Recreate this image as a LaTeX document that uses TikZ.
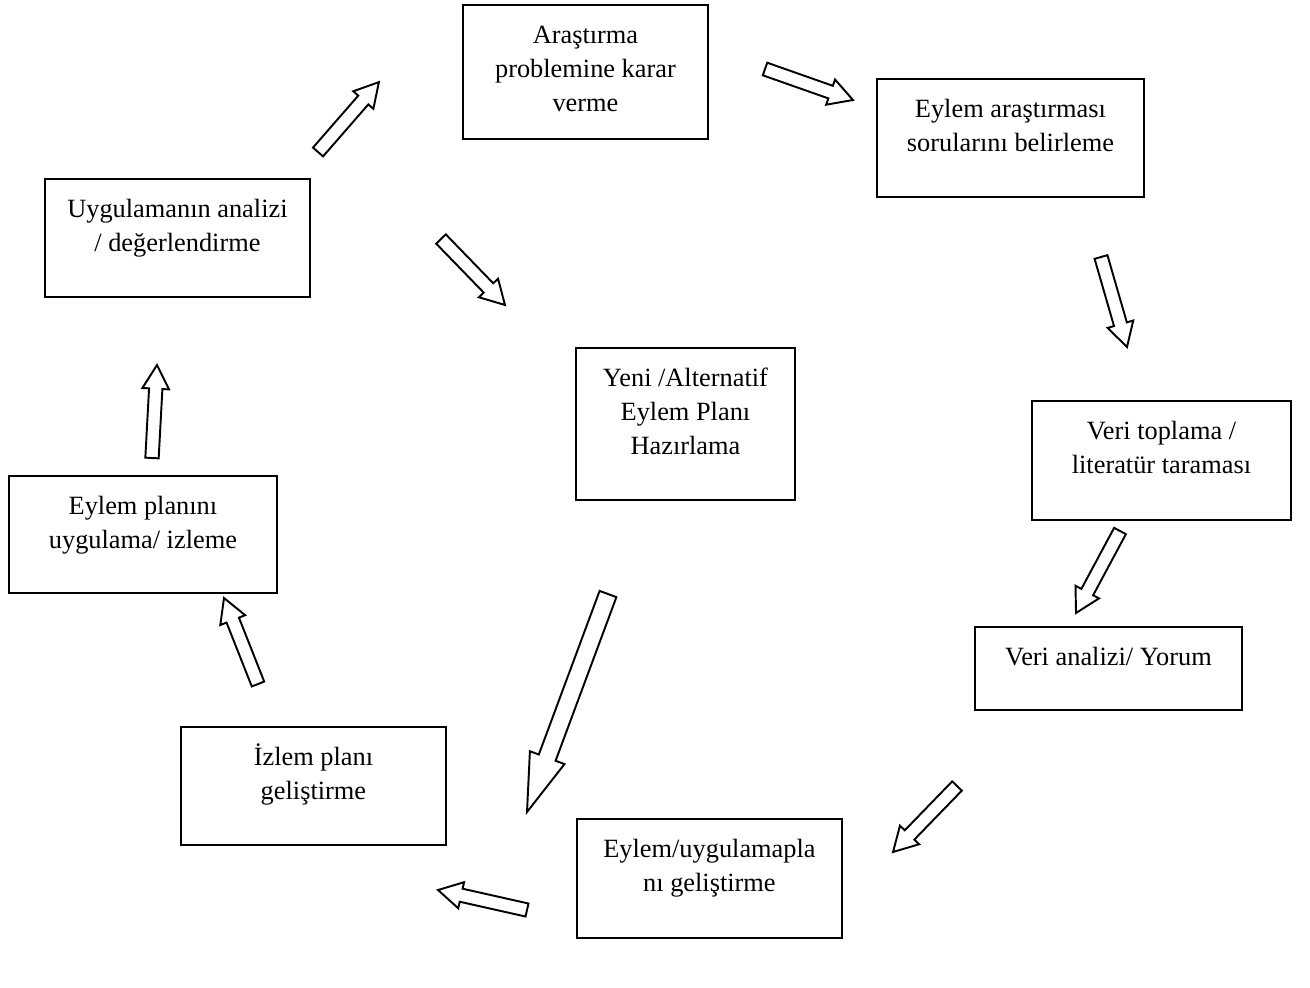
\documentclass[tikz,border=0pt]{standalone}
\usepackage{fontspec}
\setmainfont{Liberation Serif}
\usetikzlibrary{calc}

\tikzset{
  stage/.style={draw, line width=1.1pt, anchor=north west, inner sep=0pt,
    font=\fontsize{15}{19.3}\selectfont},
  hollow/.style={draw, fill=white, line width=1.1pt, line join=miter},
  blockarrow/.pic={\path[hollow] (0pt,-3.8pt) -- (#1-13.5pt,-3.8pt) -- (#1-13.5pt,-7.6pt)
    -- (#1,0pt) -- (#1-13.5pt,7.6pt) -- (#1-13.5pt,3.8pt) -- (0pt,3.8pt) -- cycle;},
  bigblockarrow/.pic={\path[hollow] (0pt,-5.1pt) -- (#1-33pt,-5.1pt) -- (#1-33pt,-10.5pt)
    -- (#1,0pt) -- (#1-33pt,10.5pt) -- (#1-33pt,5.1pt) -- (0pt,5.1pt) -- cycle;}
}

\newcommand{\stagetext}[3]{\parbox[c][#2][t]{#1}{\centering\rule{0pt}{22pt}#3}}
\newcommand{\hollowarrow}[3][blockarrow]{%
  \path let \p1=($(#3)-(#2)$) in \pgfextra{%
    \pgfmathsetmacro{\arrang}{atan2(\y1,\x1)}\global\let\arrang\arrang
    \pgfmathsetmacro{\arrlen}{veclen(\x1,\y1)}\global\let\arrlen\arrlen};
  \pic[rotate=\arrang] at (#2) {#1=\arrlen pt};}

\begin{document}
\begin{tikzpicture}[x=0.02cm, y=-0.02cm]
    \useasboundingbox (0,0) rectangle (1310,987);

    % stages of the cycle
    \node[stage] (ars) at (462,4) {\stagetext{4.9cm}{2.68cm}{Araştırma\\problemine karar\\verme}};
    \node[stage] (soru) at (876,78) {\stagetext{5.34cm}{2.36cm}{Eylem araştırması\\sorularını belirleme}};
    \node[stage] (veri) at (1031,400) {\stagetext{5.18cm}{2.38cm}{Veri toplama /\\literatür taraması}};
    \node[stage] (analiz) at (974,626) {\stagetext{5.34cm}{1.66cm}{Veri analizi/ Yorum}};
    \node[stage] (plan) at (576,818) {\stagetext{5.3cm}{2.38cm}{Eylem/uygulamapla\\nı geliştirme}};
    \node[stage] (izlem) at (180,726) {\stagetext{5.3cm}{2.36cm}{İzlem planı\\geliştirme}};
    \node[stage] (uygula) at (8,475) {\stagetext{5.36cm}{2.34cm}{Eylem planını\\uygulama/ izleme}};
    \node[stage] (degerl) at (44,178) {\stagetext{5.3cm}{2.36cm}{Uygulamanın analizi\\/ değerlendirme}};
    \node[stage] (yeni) at (575,347) {\stagetext{4.38cm}{3.04cm}{Yeni /Alternatif\\Eylem Planı\\Hazırlama}};

    % arrow ends
    \coordinate (a1s) at (318,152);  \coordinate (a1e) at (379,82);
    \coordinate (a2s) at (765,69);   \coordinate (a2e) at (853,100);
    \coordinate (a3s) at (1101,257); \coordinate (a3e) at (1127,347);
    \coordinate (a4s) at (1120,531); \coordinate (a4e) at (1076,613);
    \coordinate (a5s) at (957,786);  \coordinate (a5e) at (893,852);
    \coordinate (a6s) at (527,910);  \coordinate (a6e) at (438,890);
    \coordinate (a7s) at (258,684);  \coordinate (a7e) at (224,598);
    \coordinate (a8s) at (152,458);  \coordinate (a8e) at (157,365);
    \coordinate (a9s) at (441,239);  \coordinate (a9e) at (505,305);
    \coordinate (a10s) at (608,594); \coordinate (a10e) at (527,812);

    \hollowarrow{a1s}{a1e}
    \hollowarrow{a2s}{a2e}
    \hollowarrow{a3s}{a3e}
    \hollowarrow{a4s}{a4e}
    \hollowarrow{a5s}{a5e}
    \hollowarrow{a6s}{a6e}
    \hollowarrow{a7s}{a7e}
    \hollowarrow{a8s}{a8e}
    \hollowarrow{a9s}{a9e}
    \hollowarrow[bigblockarrow]{a10s}{a10e}
\end{tikzpicture}
\end{document}
